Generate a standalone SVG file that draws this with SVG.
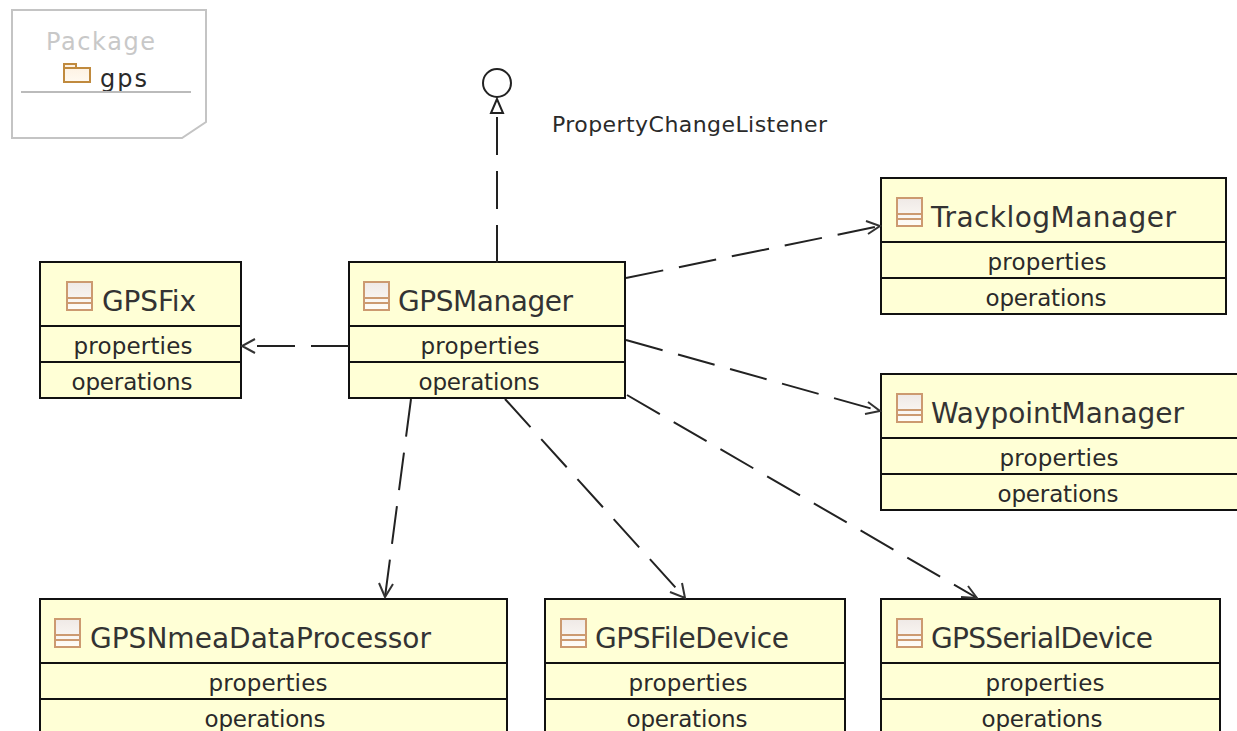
<svg xmlns="http://www.w3.org/2000/svg" width="1237" height="731" viewBox="0 0 1237 731">
<style>
text{font-family:"DejaVu Sans",sans-serif;fill:#2a2a2a}
.t{font-size:28px;fill:#333}
.m{font-size:23px;text-anchor:middle}
.b{fill:#ffffd6;stroke:#111;stroke-width:2}
.l{stroke:#111;stroke-width:2;fill:none}
.c{stroke:#222;stroke-width:2;fill:none}
.d{stroke-dasharray:38 16}
.a{stroke:#333;stroke-width:2;fill:none}
.ib{fill:url(#ig);stroke:#cc9a70;stroke-width:2}
</style>
<defs>
<linearGradient id="ig" x1="0" y1="0" x2="0" y2="1"><stop offset="0" stop-color="#efe9e6"/><stop offset="1" stop-color="#fffdf8"/></linearGradient>
<linearGradient id="fg" x1="0" y1="0" x2="0" y2="1"><stop offset="0" stop-color="#fdf0e0"/><stop offset="1" stop-color="#fff9f0"/></linearGradient>
<g id="ic"><rect class="ib" x="1" y="1" width="25" height="28"/><path d="M1 17H26M1 22H26" stroke="#cc9a70" stroke-width="2" fill="none"/></g>
</defs>
<g id="package">
<path d="M12 10H206V122L182 138H12Z" fill="#fff" stroke="#c4c4c4" stroke-width="2"/>
<text x="46" y="50" font-size="24" style="fill:#c8c8c8" textLength="109">Package</text>
<path d="M64 68H90V82H64ZM64 68V64H76V68" fill="url(#fg)" stroke="#c08a3e" stroke-width="2"/>
<text x="100" y="87" font-size="24" textLength="47">gps</text>
<path d="M21 92H191" stroke="#bbb" stroke-width="2"/>
</g>
<g id="interface">
<circle cx="497" cy="83" r="14" fill="#fff" stroke="#222" stroke-width="2"/>
<path d="M497 99L491 113H503Z" fill="#fff" stroke="#222" stroke-width="2"/>
<text x="552" y="132" font-size="22" textLength="275">PropertyChangeListener</text>
</g>
<g id="GPSFix"><rect class="b" x="40" y="262" width="201" height="136"/><path class="l" d="M40 326H241M40 362H241"/><use href="#ic" x="66" y="281"/><text class="t" x="102" y="311" textLength="94">GPSFix</text><text class="m" x="133" y="354" textLength="119">properties</text><text class="m" x="132" y="390" textLength="121">operations</text></g>
<g id="GPSManager"><rect class="b" x="349" y="262" width="276" height="136"/><path class="l" d="M349 326H625M349 362H625"/><use href="#ic" x="363" y="281"/><text class="t" x="398" y="311" textLength="175">GPSManager</text><text class="m" x="480" y="354" textLength="119">properties</text><text class="m" x="479" y="390" textLength="121">operations</text></g>
<g id="TracklogManager"><rect class="b" x="881" y="178" width="345" height="136"/><path class="l" d="M881 242H1226M881 278H1226"/><use href="#ic" x="896" y="197"/><text class="t" x="931" y="227" textLength="245">TracklogManager</text><text class="m" x="1047" y="270" textLength="119">properties</text><text class="m" x="1046" y="306" textLength="121">operations</text></g>
<g id="WaypointManager"><rect class="b" x="881" y="374" width="358" height="136"/><path class="l" d="M881 438H1239M881 474H1239"/><use href="#ic" x="896" y="393"/><text class="t" x="931" y="423" textLength="253">WaypointManager</text><text class="m" x="1059" y="466" textLength="119">properties</text><text class="m" x="1058" y="502" textLength="121">operations</text></g>
<g id="GPSNmeaDataProcessor"><rect class="b" x="40" y="599" width="467" height="136"/><path class="l" d="M40 663H507M40 699H507"/><use href="#ic" x="54" y="618"/><text class="t" x="90" y="648" textLength="341">GPSNmeaDataProcessor</text><text class="m" x="268" y="691" textLength="119">properties</text><text class="m" x="265" y="727" textLength="121">operations</text></g>
<g id="GPSFileDevice"><rect class="b" x="545" y="599" width="300" height="136"/><path class="l" d="M545 663H845M545 699H845"/><use href="#ic" x="560" y="618"/><text class="t" x="595" y="648" textLength="194">GPSFileDevice</text><text class="m" x="688" y="691" textLength="119">properties</text><text class="m" x="687" y="727" textLength="121">operations</text></g>
<g id="GPSSerialDevice"><rect class="b" x="881" y="599" width="339" height="136"/><path class="l" d="M881 663H1220M881 699H1220"/><use href="#ic" x="896" y="618"/><text class="t" x="931" y="648" textLength="222">GPSSerialDevice</text><text class="m" x="1045" y="691" textLength="119">properties</text><text class="m" x="1042" y="727" textLength="121">operations</text></g>
<g id="connectors">
<path class="c d" d="M497 263V117"/>
<path class="c d" d="M349 346H242"/><path class="a" d="M255 339L242 346L255 353"/>
<path class="c d" d="M626 278L880 226"/><path class="a" d="M866 221L880 226L868 234"/>
<path class="c d" d="M626 340L880 411"/><path class="a" d="M868 402L880 411L865 414"/>
<path class="c d" d="M411 399L385 597"/><path class="a" d="M379 583L385 597L393 584"/>
<path class="c d" d="M505 399L685 598"/><path class="a" d="M670 592L685 598L682 583"/>
<path class="c d" d="M627 395L977 598"/><path class="a" d="M961 597L977 598L968 586"/>
</g>
</svg>
